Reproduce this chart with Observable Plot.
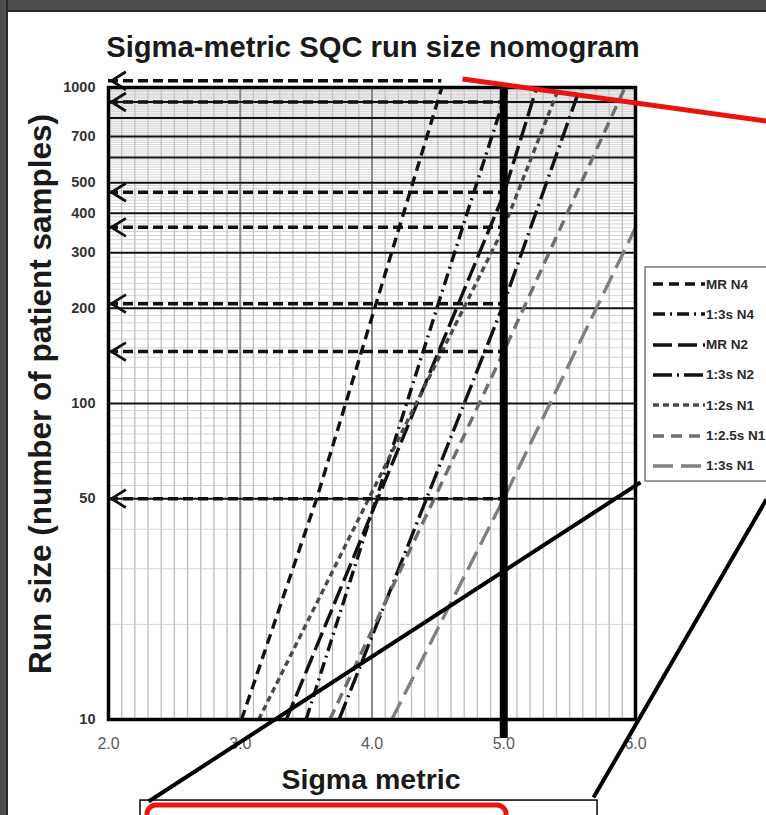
<!DOCTYPE html>
<html>
<head>
<meta charset="utf-8">
<script src="https://cdn.jsdelivr.net/npm/d3@7"></script>
<script src="https://cdn.jsdelivr.net/npm/@observablehq/plot@0.6"></script>
<style>
html,body{margin:0;padding:0;background:#fff;}
#wrap{position:relative;width:766px;height:815px;overflow:hidden;font-family:"Liberation Sans",Arial,Helvetica,sans-serif;background:#fff;}
#chart{position:absolute;left:0;top:0;}
#borderTop{position:absolute;left:0;top:0;width:766px;height:10px;background:#4e4e4e;border-bottom:2px solid #2a2a2a;}
#borderLeft{position:absolute;left:0;top:0;width:6px;height:815px;background:#4e4e4e;border-right:2px solid #2a2a2a;}
#title{position:absolute;left:98px;width:550px;top:33px;text-align:center;font-size:29.2px;line-height:29px;font-weight:bold;color:#1a1a1a;white-space:nowrap;}
#xtitle{position:absolute;left:220px;width:302px;top:765px;text-align:center;font-size:28.5px;line-height:28.5px;font-weight:bold;color:#1a1a1a;white-space:nowrap;}
#ytitle{position:absolute;left:40px;top:394px;transform:translate(-50%,-50%) rotate(-90deg);font-size:31.5px;line-height:31px;font-weight:bold;color:#1a1a1a;white-space:nowrap;}
#legend{position:absolute;left:644px;top:266px;width:140px;height:212px;border:2px solid #9a9a9a;background:#fff;}
.lrow{position:absolute;left:7px;height:20px;display:flex;align-items:center;white-space:nowrap;}
.lrow span{font-size:13.5px;font-weight:bold;color:#2a2a2a;margin-left:1px;}
</style>
</head>
<body>
<div id="wrap">
  <div id="chart"></div>
  <div id="title">Sigma-metric SQC run size nomogram</div>
  <div id="xtitle">Sigma metric</div>
  <div id="ytitle">Run size (number of patient samples)</div>
  <div id="legend"></div>
  <div id="borderTop"></div>
  <div id="borderLeft"></div>
</div>
<script>
// ---- data ----
const seriesNames = ["MR N4", "1:3s N4", "MR N2", "1:3s N2", "1:2s N1", "1:2.5s N1", "1:3s N1"];

const mrN4Sigma   = [3.01, 3.58, 3.80, 4.02, 4.53];
const mrN4Run     = [10, 50, 100, 200, 1000];
const r13sN4Sigma = [3.50, 4.73, 5.03];
const r13sN4Run   = [10, 410, 1000];
const mrN2Sigma   = [3.35, 5.00, 5.25];
const mrN2Run     = [10, 460, 1000];
const r13sN2Sigma = [3.75, 5.00, 5.58];
const r13sN2Run   = [10, 207, 1000];
const r12sN1Sigma = [3.14, 5.00, 5.42];
const r12sN1Run   = [10, 360, 1000];
const r125sN1Sigma= [3.68, 5.00, 5.92];
const r125sN1Run  = [10, 146, 1000];
const r13sN1Sigma = [4.15, 5.00, 6.00];
const r13sN1Run   = [10, 50, 360];

const sigmaTicks = [2, 3, 4, 5, 6];
const runTicks = [10, 50, 100, 200, 300, 400, 500, 700, 1000];
const majorRunLines = [50, 100, 200, 300, 400, 500, 600, 700, 800, 900];
const majorSigmaLines = [3, 4];
const chosenSigma = [5];

const arrowRuns = [1050, 900, 466, 361, 207, 146, 50];
const arrowEnds = [4.53, 5, 5, 5, 5, 5, 5];

// ---- styles ----
const seriesColors = ["#111", "#111", "#111", "#111", "#4a4a4a", "#6e6e6e", "#808080"];
const seriesDash   = ["10 6", "12 5 2 5", "19 6", "19 5 2 5", "6 4", "11 7", "20 8"];

// ---- tables ----
const sigmaLists = [mrN4Sigma, r13sN4Sigma, mrN2Sigma, r13sN2Sigma, r12sN1Sigma, r125sN1Sigma, r13sN1Sigma];
const runLists   = [mrN4Run, r13sN4Run, mrN2Run, r13sN2Run, r12sN1Run, r125sN1Run, r13sN1Run];
const seriesTables = seriesNames.map((name, i) =>
  sigmaLists[i].map((s, j) => ({series: name, sigma: s, run: runLists[i][j]})));

const arrowData = arrowRuns.map((r, i) => ({run: r, from: 2, to: arrowEnds[i]}));

// grid positions (scale ticks)
const minorSigma = d3.range(2.1, 6.0, 0.1).map(v => +v.toFixed(1)).filter(v => v % 1 !== 0);
const minorRun = [20, 30, 40]
  .concat(d3.range(55, 100, 5))
  .concat(d3.range(110, 1000, 10))
  .filter(v => !majorRunLines.includes(v));

// open chevron arrowhead symbol, pointing left
const chevron = {
  draw(context, size) {
    const r = Math.sqrt(size / Math.PI);
    context.moveTo(r * 1.6, -r);
    context.lineTo(0, 0);
    context.lineTo(r * 1.6, r);
  }
};

// callout annotations (in chart units)
const calloutLines = [
  {x1: 4.687, y1: 1064, x2: 6.994, y2: 783, color: "#e8140e", w: 5},
  {x1: 6.038, y1: 56.3, x2: 2.304, y2: 5.50, color: "#000", w: 4},
  {x1: 6.994, y1: 49.75, x2: 5.681, y2: 5.66, color: "#000", w: 4}
];
const calloutBoxes = [
  {x1: 2.243, x2: 5.712, y1: 5.54, y2: 4.3, color: "#000", w: 1.5, r: 0},
  {x1: 2.296, x2: 5.021, y1: 5.34, y2: 4.3, color: "#e8140e", w: 5, r: 9}
];

const marks = [
  Plot.ruleX(minorSigma, {stroke: "#bdbdbd", strokeWidth: 1.3}),
  Plot.ruleY(minorRun, {stroke: "#c9c9c9", strokeWidth: 0.8}),
  Plot.ruleX(majorSigmaLines, {stroke: "#8a8a8a", strokeWidth: 2}),
  Plot.ruleY(majorRunLines, {stroke: "#111", strokeWidth: 2}),
];
seriesTables.forEach((tbl, i) => {
  marks.push(Plot.line(tbl, {x: "sigma", y: "run", stroke: seriesColors[i], strokeWidth: 3.4,
    strokeDasharray: seriesDash[i], strokeLinecap: "butt"}));
});
marks.push(
  Plot.ruleY(arrowData, {y: "run", x1: "from", x2: "to", stroke: "#111", strokeWidth: 3.5, strokeDasharray: "10 5"}),
  Plot.dot(arrowData, {x: "from", y: "run", symbol: chevron, r: 9, dx: 3, fill: "none", stroke: "#111", strokeWidth: 2.8}),
  Plot.ruleX(chosenSigma.map(s => ({sigma: s, top: 1000, bottom: 8.7})), {x: "sigma", y1: "top", y2: "bottom", stroke: "#000", strokeWidth: 8}),
  Plot.frame({stroke: "#000", strokeWidth: 3.5}),
  Plot.text(runTicks, {y: d => d, text: d => String(d), frameAnchor: "left", textAnchor: "end", dx: -13,
    fontSize: 14.5, fontWeight: "bold", fill: "#333"}),
  Plot.text(sigmaTicks, {x: d => d, text: d => d.toFixed(1), frameAnchor: "bottom", dy: 29,
    fontSize: 16, fill: "#5a5a5a"}),
  Plot.link(calloutLines, {x1: "x1", y1: "y1", x2: "x2", y2: "y2", stroke: d => d.color, strokeWidth: d => d.w}),
);
calloutBoxes.forEach(b => {
  marks.push(Plot.rect([b], {x1: "x1", x2: "x2", y1: "y1", y2: "y2", fill: "none", stroke: b.color, strokeWidth: b.w, rx: b.r}));
});

const chart = Plot.plot({
  width: 766,
  height: 815,
  marginLeft: 108,
  marginRight: 131,
  marginTop: 87,
  marginBottom: 96,
  style: {fontFamily: "Liberation Sans, Arial, sans-serif", background: "transparent", overflow: "visible"},
  x: {domain: [2, 6], axis: null},
  y: {type: "log", domain: [10, 1000], axis: null},
  color: {type: "identity"},
  marks
});
document.getElementById("chart").appendChild(chart);

// legend
const legend = document.getElementById("legend");
seriesNames.forEach((name, i) => {
  const row = document.createElement("div");
  row.className = "lrow";
  row.style.top = (6 + i * 30.3) + "px";
  row.innerHTML = `<svg width="52" height="8"><line x1="0" y1="4" x2="52" y2="4" stroke="${seriesColors[i]}" stroke-width="3.5" stroke-dasharray="${seriesDash[i]}"/></svg><span>${name}</span>`;
  legend.appendChild(row);
});
</script>
</body>
</html>
